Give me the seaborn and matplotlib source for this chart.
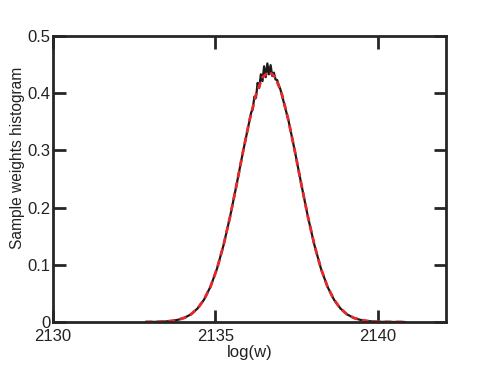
# Sample weights histogram with gaussian fit
import numpy as np
import pandas as pd
import matplotlib
matplotlib.use('Agg')
import matplotlib.pyplot as plt
import seaborn as sb

# histogram of log weights
hist_x = [2132.85, 2133.05, 2133.25, 2133.45, 2133.65, 2133.85, 2134.05, 2134.25,
          2134.45, 2134.65, 2134.85, 2135.05, 2135.25, 2135.45, 2135.65, 2135.85,
          2136.05, 2136.10, 2136.15, 2136.20, 2136.25, 2136.30, 2136.35, 2136.40,
          2136.45, 2136.50, 2136.55, 2136.60, 2136.65, 2136.70, 2136.75, 2136.80,
          2136.85, 2136.90, 2136.95, 2137.00,
          2137.25, 2137.45, 2137.65, 2137.85, 2138.05, 2138.25, 2138.45, 2138.65,
          2138.85, 2139.05, 2139.25, 2139.45, 2139.65, 2139.85, 2140.05, 2140.25,
          2140.45, 2140.65, 2140.85]
hist_y = [0.0001, 0.0002, 0.0004, 0.0009, 0.0019, 0.0039, 0.0074, 0.0135,
          0.0236, 0.0391, 0.0619, 0.0933, 0.1341, 0.1836, 0.2394, 0.2976,
          0.352, 0.366, 0.372, 0.394, 0.392, 0.418, 0.409, 0.433,
          0.421, 0.447, 0.428, 0.452, 0.433, 0.449, 0.430, 0.436,
          0.424, 0.423, 0.414, 0.407,
          0.3524, 0.2976, 0.2394, 0.1836, 0.1341, 0.0933, 0.0619, 0.0391,
          0.0236, 0.0135, 0.0074, 0.0039, 0.0019, 0.0009, 0.0004, 0.0002,
          0.0001, 0.0, 0.0]

# gaussian fit
fit_x = [2132.85, 2133.05, 2133.25, 2133.45, 2133.65, 2133.85, 2134.05, 2134.25,
         2134.45, 2134.65, 2134.85, 2135.05, 2135.25, 2135.45, 2135.65, 2135.85,
         2136.05, 2136.25, 2136.45, 2136.65, 2136.85, 2137.05, 2137.25, 2137.45,
         2137.65, 2137.85, 2138.05, 2138.25, 2138.45, 2138.65, 2138.85, 2139.05,
         2139.25, 2139.45, 2139.65, 2139.85, 2140.05, 2140.25, 2140.45, 2140.65,
         2140.85]
fit_y = [0.0001, 0.0002, 0.0004, 0.0009, 0.0019, 0.0039, 0.0074, 0.0135,
         0.0236, 0.0391, 0.0619, 0.0933, 0.1341, 0.1836, 0.2394, 0.2976,
         0.3524, 0.3977, 0.4275, 0.438, 0.4275, 0.3977, 0.3524, 0.2976,
         0.2394, 0.1836, 0.1341, 0.0933, 0.0619, 0.0391, 0.0236, 0.0135,
         0.0074, 0.0039, 0.0019, 0.0009, 0.0004, 0.0002, 0.0001, 0.0, 0.0]

x_ticks = [2130, 2135, 2140]
y_ticks = [0, 0.1, 0.2, 0.3, 0.4, 0.5]
y_tick_labels = ['0', '0.1', '0.2', '0.3', '0.4', '0.5']

hist_df = pd.DataFrame({'logw': hist_x, 'hist': hist_y})
fit_df = pd.DataFrame({'logw': fit_x, 'fit': fit_y})

sb.set_style('white')
plt.rcParams['font.family'] = ['Liberation Sans', 'DejaVu Sans']
axis_col = '#262626'
text_col = '#222222'

fig = plt.figure(figsize=(4.98, 3.76), dpi=100)
ax = fig.add_axes([0.1064, 0.1436, 0.7892, 0.7607])

sb.lineplot(x='logw', y='hist', data=hist_df, ax=ax, color='#1a1a1a', linewidth=1.6)
sb.lineplot(x='logw', y='fit', data=fit_df, ax=ax, color='#e8282b', linewidth=2.0,
            linestyle=(0, (2.5, 1.6)))

ax.set_xlim(2130, 2142.1)
ax.set_ylim(0, 0.5)
ax.set_xticks(x_ticks)
ax.set_yticks(y_ticks)
ax.set_yticklabels(y_tick_labels)

for s in ax.spines.values():
    s.set_linewidth(2)
    s.set_color(axis_col)
ax.tick_params(direction='in', length=9, width=2, color=axis_col,
               left=True, bottom=True, top=True, right=True,
               labelsize=12, labelcolor=text_col)
ax.tick_params(axis='x', pad=5)
ax.tick_params(axis='y', pad=2)

ax.set_xlabel('log(w)', fontsize=12, color=text_col)
ax.set_ylabel('Sample weights histogram', fontsize=11.2, color=text_col)
ax.xaxis.set_label_coords(0.5, -0.08)
ax.yaxis.set_label_coords(-0.07, 0.573)

plt.savefig('out.png', dpi=100)
